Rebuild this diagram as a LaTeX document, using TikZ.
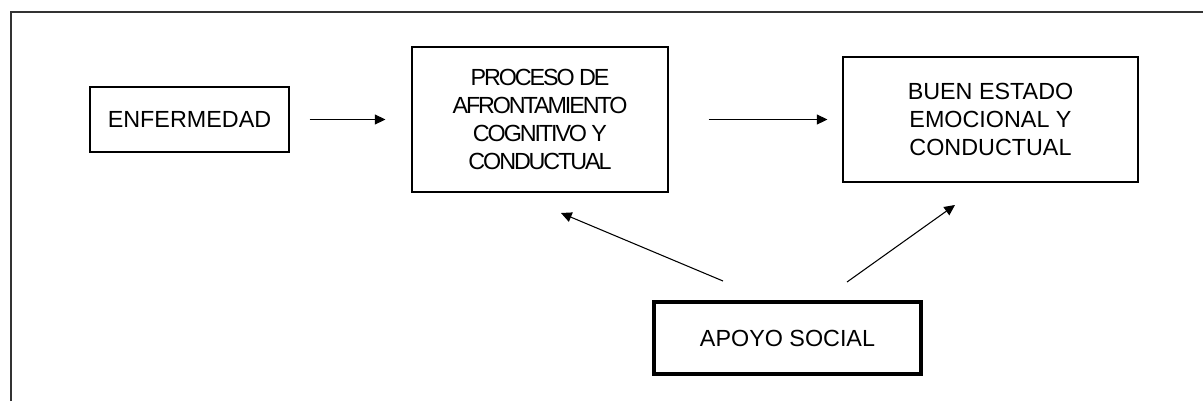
\documentclass[tikz,border=0pt]{standalone}
\usepackage{fontspec}
\setmainfont{Liberation Sans}
\newfontfamily\tightfont[LetterSpace=-9]{Liberation Sans}
\usetikzlibrary{arrows.meta}
\tikzset{
  box/.style={draw=black, line width=0.8pt, rectangle, align=center, inner sep=0pt,
    font=\fontsize{17.5}{20.8}\selectfont},
  thickbox/.style={box, line width=3.4pt},
  arr/.style={line width=0.8pt, -{Triangle[length=8pt,width=7.5pt]}},
  frame/.style={draw=black!80, line width=1.1pt}
}
\begin{document}
\begin{tikzpicture}[x=0.75pt, y=-0.75pt]
\useasboundingbox (0,0) rectangle (1203,401);
% outer frame (top and left sides)
\coordinate (fbl) at (11,401);
\coordinate (ftl) at (11,12);
\coordinate (ftr) at (1203,12);
\draw[frame] (fbl) -- (ftl) -- (ftr);

\node[box, minimum width=149.25pt, minimum height=48.75pt] (enf) at (189.5,119.5) {ENFERMEDAD};
\node[box, minimum width=192pt, minimum height=108.75pt, font=\tightfont\fontsize{17.5}{21}\selectfont] (proc) at (540,119.5)
  {PROCESO DE\\AFRONTAMIENTO\\COGNITIVO Y\\CONDUCTUAL};
\node[box, minimum width=221.25pt, minimum height=93.75pt] (buen) at (990.5,119.5)
  {BUEN ESTADO\\EMOCIONAL Y\\CONDUCTUAL};
\node[thickbox, minimum width=200.25pt, minimum height=54pt] (apoyo) at (787.5,338) {APOYO SOCIAL};

\draw[arr] (enf.east) ++(15pt,0) -- ([xshift=-19.5pt]proc.west);
\draw[arr] (proc.east) ++(30pt,0) -- ([xshift=-11.25pt]buen.west);

\coordinate (s3) at (723,281);
\coordinate (t3) at (561,213);
\coordinate (s4) at (847,282);
\coordinate (t4) at (955,205);
\draw[arr] (s3) -- (t3);
\draw[arr] (s4) -- (t4);
\end{tikzpicture}
\end{document}
